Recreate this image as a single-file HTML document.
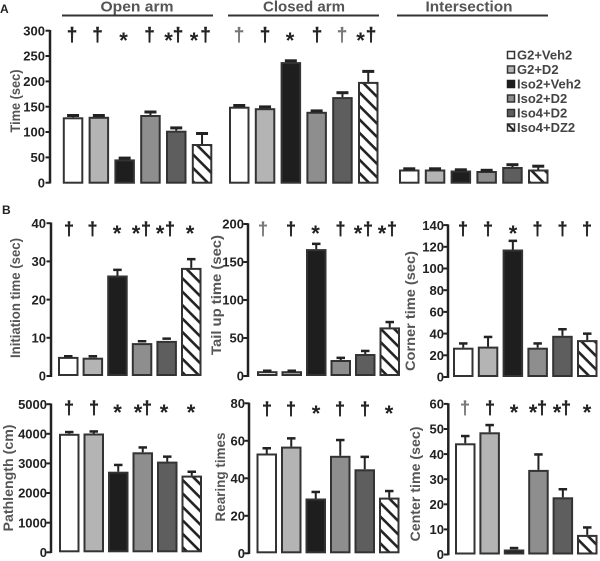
<!DOCTYPE html>
<html><head><meta charset="utf-8"><style>
html,body{margin:0;padding:0;background:#fff;}
svg{display:block;}
text{font-family:"Liberation Sans",Arial,sans-serif;font-weight:bold;}
.tk{font-size:13px;fill:#222;text-anchor:end;}
.yl{font-size:14px;fill:#555;text-anchor:middle;}
.hd{font-size:15px;fill:#555;text-anchor:middle;}
.dg{font-size:19px;fill:#222;text-anchor:middle;stroke:#222;stroke-width:0.4;}
.dl{font-size:19px;fill:#777;text-anchor:middle;stroke:#777;stroke-width:0.3;}
.db{font-size:18px;fill:#222;text-anchor:middle;stroke:#222;stroke-width:0.4;}
.dbl{font-size:18px;fill:#777;text-anchor:middle;stroke:#777;stroke-width:0.3;}
.st{font-size:22px;fill:#222;text-anchor:middle;}
.lg{font-size:13px;fill:#444;}
.ax{stroke:#222;stroke-width:2.5;fill:none;}
.tm{stroke:#222;stroke-width:2;}
.b{stroke:#333;stroke-width:2;}
.w{fill:#fff;}.l{fill:#b4b4b4;}.k{fill:#1e1e1e;}.m{fill:#8e8e8e;}.d{fill:#5e5e5e;}.h{fill:url(#hat);}
.eb{stroke:#222;stroke-width:2;}
.cp{fill:#222;}
</style></head><body>
<svg width="600" height="561" viewBox="0 0 600 561" xmlns="http://www.w3.org/2000/svg">
<defs>
<pattern id="hat" patternUnits="userSpaceOnUse" width="9.5" height="9.5" patternTransform="rotate(45)">
<rect x="0" y="0" width="9.5" height="9.5" fill="#fff"/>
<rect x="0" y="0" width="9.5" height="2.6" fill="#222"/>
</pattern>
</defs>
<rect width="600" height="561" fill="#fff"/>

<!-- Panel A -->
<text x="0" y="13" style="font-size:12px;fill:#222">A</text>
<text class="hd" x="137" y="11.5" textLength="73" lengthAdjust="spacingAndGlyphs">Open arm</text>
<text class="hd" x="304" y="11.5" textLength="82" lengthAdjust="spacingAndGlyphs">Closed arm</text>
<text class="hd" x="469" y="11.5" textLength="87" lengthAdjust="spacingAndGlyphs">Intersection</text>
<line x1="62" y1="15.5" x2="213" y2="15.5" stroke="#333" stroke-width="2"/>
<line x1="228" y1="15.5" x2="379" y2="15.5" stroke="#333" stroke-width="2"/>
<line x1="397" y1="15.5" x2="548" y2="15.5" stroke="#333" stroke-width="2"/>

<line class="ax" x1="50" y1="30" x2="50" y2="183.5"/>
<g class="tm">
<line x1="45.5" y1="30.7" x2="50" y2="30.7"/><line x1="45.5" y1="56" x2="50" y2="56"/><line x1="45.5" y1="81.4" x2="50" y2="81.4"/><line x1="45.5" y1="106.7" x2="50" y2="106.7"/><line x1="45.5" y1="132" x2="50" y2="132"/><line x1="45.5" y1="157.4" x2="50" y2="157.4"/><line x1="45.5" y1="182.7" x2="50" y2="182.7"/>
</g>
<g class="tk">
<text x="45" y="30.7" dy="0.36em">300</text><text x="45" y="56" dy="0.36em">250</text><text x="45" y="81.4" dy="0.36em">200</text><text x="45" y="106.7" dy="0.36em">150</text><text x="45" y="132" dy="0.36em">100</text><text x="45" y="157.4" dy="0.36em">50</text><text x="45" y="182.7" dy="0.36em">0</text>
</g>
<text class="yl" transform="translate(15,101) rotate(-90)" dy="0.35em" textLength="63" lengthAdjust="spacingAndGlyphs">Time (sec)</text>

<!-- A open bars -->
<rect class="b w" x="63.8" y="118.3" width="18.5" height="64.4"/>
<rect class="b l" x="89.6" y="117.8" width="18.5" height="64.9"/>
<rect class="b k" x="115.4" y="160.4" width="18.5" height="22.3"/>
<rect class="b m" x="141.2" y="116" width="18.5" height="66.7"/>
<rect class="b d" x="167" y="131.7" width="18.5" height="51"/>
<rect class="b h" x="192.8" y="145" width="18.5" height="37.7"/>
<g class="eb">
<line x1="73.05" y1="117.3" x2="73.05" y2="115.3"/><line x1="98.85" y1="116.8" x2="98.85" y2="115.3"/><line x1="124.65" y1="159.4" x2="124.65" y2="157.9"/><line x1="150.45" y1="115" x2="150.45" y2="111.8"/><line x1="176.25" y1="130.7" x2="176.25" y2="127.7"/><line x1="202.05" y1="144" x2="202.05" y2="133.3"/>
</g>
<g class="cp">
<rect x="67.05" y="114" width="12" height="3"/><rect x="92.85" y="114" width="12" height="3"/><rect x="118.65" y="156.6" width="12" height="3"/><rect x="144.45" y="110.5" width="12" height="3"/><rect x="170.25" y="126.4" width="12" height="3"/><rect x="196.05" y="132" width="12" height="3"/>
</g>
<!-- A closed bars -->
<rect class="b w" x="230" y="107.7" width="18.5" height="75"/>
<rect class="b l" x="255.8" y="109.2" width="18.5" height="73.5"/>
<rect class="b k" x="281.6" y="63.1" width="18.5" height="119.6"/>
<rect class="b m" x="307.4" y="112.8" width="18.5" height="69.9"/>
<rect class="b d" x="333.2" y="98.1" width="18.5" height="84.6"/>
<rect class="b h" x="359" y="82.9" width="18.5" height="99.8"/>
<g class="eb">
<line x1="342.45" y1="97.1" x2="342.45" y2="92.5"/><line x1="368.25" y1="81.9" x2="368.25" y2="71.2"/>
</g>
<g class="cp">
<rect x="233.25" y="104" width="12" height="3"/><rect x="259.05" y="105.4" width="12" height="3"/><rect x="284.85" y="59.3" width="12" height="3"/><rect x="310.65" y="109.4" width="12" height="3"/><rect x="336.45" y="91.2" width="12" height="3"/><rect x="362.25" y="69.9" width="12" height="3"/>
</g>
<!-- A intersection bars -->
<rect class="b w" x="400" y="170.5" width="18.5" height="12.2"/>
<rect class="b l" x="425.8" y="170.5" width="18.5" height="12.2"/>
<rect class="b k" x="451.6" y="171.5" width="18.5" height="11.2"/>
<rect class="b m" x="477.4" y="172" width="18.5" height="10.7"/>
<rect class="b d" x="503.2" y="168" width="18.5" height="14.7"/>
<rect class="b h" x="529" y="170.5" width="18.5" height="12.2"/>
<g class="eb"><line x1="512.45" y1="167" x2="512.45" y2="164.5"/><line x1="538.25" y1="169.5" x2="538.25" y2="166"/></g>
<g class="cp">
<rect x="403.25" y="167.3" width="12" height="3"/><rect x="429.05" y="167.3" width="12" height="3"/><rect x="454.85" y="168.3" width="12" height="3"/><rect x="480.65" y="168.8" width="12" height="3"/><rect x="506.45" y="163.2" width="12" height="3"/><rect x="532.25" y="164.7" width="12" height="3"/>
</g>
<!-- A stats -->
<text class="dg" x="72" y="41">†</text><text class="dg" x="97.5" y="41">†</text><text class="st" x="123.5" y="48">*</text><text class="dg" x="149.5" y="41">†</text>
<text class="st" x="168.5" y="48">*</text><text class="dg" x="178" y="41">†</text>
<text class="st" x="194" y="48">*</text><text class="dg" x="205.5" y="41">†</text>
<text class="dl" x="239" y="41">†</text><text class="dg" x="265" y="41">†</text><text class="st" x="290" y="48">*</text><text class="dg" x="317" y="41">†</text><text class="dl" x="342" y="41">†</text>
<text class="st" x="360.5" y="48">*</text><text class="dg" x="371" y="41">†</text>

<!-- Legend -->
<rect x="507.5" y="51.5" width="7" height="7" fill="#fff" stroke="#333" stroke-width="1.5"/>
<rect x="507.5" y="66" width="7" height="7" fill="#b4b4b4" stroke="#333" stroke-width="1.5"/>
<rect x="507.5" y="80.5" width="7" height="7" fill="#1e1e1e" stroke="#1e1e1e" stroke-width="1.5"/>
<rect x="507.5" y="95" width="7" height="7" fill="#8e8e8e" stroke="#333" stroke-width="1.5"/>
<rect x="507.5" y="109.5" width="7" height="7" fill="#5e5e5e" stroke="#333" stroke-width="1.5"/>
<rect x="507.5" y="124" width="7" height="7" fill="#fff" stroke="#333" stroke-width="1.5"/>
<line x1="507.5" y1="124" x2="514.5" y2="131" stroke="#222" stroke-width="2"/>
<g class="lg">
<text x="517" y="55" dy="0.36em">G2+Veh2</text>
<text x="517" y="69.5" dy="0.36em">G2+D2</text>
<text x="517" y="84" dy="0.36em">Iso2+Veh2</text>
<text x="517" y="98.5" dy="0.36em">Iso2+D2</text>
<text x="517" y="113" dy="0.36em">Iso4+D2</text>
<text x="517" y="127.5" dy="0.36em">Iso4+DZ2</text>
</g>

<!-- Panel B -->
<text x="2" y="214" style="font-size:12px;fill:#222">B</text>

<!-- B1 Initiation -->
<line class="ax" x1="51" y1="222.5" x2="51" y2="377"/>
<g class="tm"><line x1="46.5" y1="223.2" x2="51" y2="223.2"/><line x1="46.5" y1="261.4" x2="51" y2="261.4"/><line x1="46.5" y1="299.6" x2="51" y2="299.6"/><line x1="46.5" y1="337.8" x2="51" y2="337.8"/><line x1="46.5" y1="376" x2="51" y2="376"/></g>
<g class="tk"><text x="46" y="223.2" dy="0.36em">40</text><text x="46" y="261.4" dy="0.36em">30</text><text x="46" y="299.6" dy="0.36em">20</text><text x="46" y="337.8" dy="0.36em">10</text><text x="46" y="376" dy="0.36em">0</text></g>
<text class="yl" transform="translate(15,298) rotate(-90)" dy="0.35em" textLength="120" lengthAdjust="spacingAndGlyphs">Initiation time (sec)</text>
<rect class="b w" x="59" y="357.9" width="18.5" height="17.1"/>
<rect class="b l" x="83.6" y="358.7" width="18.5" height="16.3"/>
<rect class="b k" x="108.2" y="276.5" width="18.5" height="98.5"/>
<rect class="b m" x="132.8" y="344.1" width="18.5" height="30.9"/>
<rect class="b d" x="157.4" y="341.9" width="18.5" height="33.1"/>
<rect class="b h" x="182" y="268.9" width="18.5" height="106.1"/>
<g class="eb"><line x1="117.45" y1="275.5" x2="117.45" y2="269.8"/><line x1="191.25" y1="267.9" x2="191.25" y2="259.1"/></g>
<g class="cp"><rect x="64" y="355" width="8.5" height="2.5"/><rect x="88.6" y="355" width="8.5" height="2.5"/><rect x="113.2" y="268.6" width="8.5" height="2.5"/><rect x="137.8" y="340" width="8.5" height="2.5"/><rect x="162.4" y="337.4" width="8.5" height="2.5"/><rect x="187" y="257.9" width="8.5" height="2.5"/></g>
<text class="db" x="69" y="235">†</text><text class="db" x="92.5" y="235">†</text><text class="st" x="117" y="241">*</text>
<text class="st" x="136" y="241">*</text><text class="db" x="146" y="235">†</text>
<text class="st" x="160" y="241">*</text><text class="db" x="170" y="235">†</text>
<text class="st" x="190" y="241">*</text>

<!-- B2 Tail up -->
<line class="ax" x1="248" y1="223.3" x2="248" y2="377"/>
<g class="tm"><line x1="243.5" y1="224" x2="248" y2="224"/><line x1="243.5" y1="262" x2="248" y2="262"/><line x1="243.5" y1="300" x2="248" y2="300"/><line x1="243.5" y1="338" x2="248" y2="338"/><line x1="243.5" y1="376" x2="248" y2="376"/></g>
<g class="tk"><text x="244" y="224" dy="0.36em">200</text><text x="244" y="262" dy="0.36em">150</text><text x="244" y="300" dy="0.36em">100</text><text x="244" y="338" dy="0.36em">50</text><text x="244" y="376" dy="0.36em">0</text></g>
<text class="yl" transform="translate(216,295) rotate(-90)" dy="0.35em" textLength="120" lengthAdjust="spacingAndGlyphs">Tail up time (sec)</text>
<rect class="b w" x="258" y="372.2" width="18.5" height="2.8"/>
<rect class="b l" x="282.5" y="372.2" width="18.5" height="2.8"/>
<rect class="b k" x="307" y="250.1" width="18.5" height="124.9"/>
<rect class="b m" x="331.5" y="361" width="18.5" height="14"/>
<rect class="b d" x="356" y="355" width="18.5" height="20"/>
<rect class="b h" x="380.5" y="328.4" width="18.5" height="46.6"/>
<g class="eb"><line x1="316.25" y1="249.1" x2="316.25" y2="243.8"/><line x1="340.75" y1="360" x2="340.75" y2="357.8"/><line x1="365.25" y1="354" x2="365.25" y2="350.9"/><line x1="389.75" y1="327.4" x2="389.75" y2="322"/></g>
<g class="cp"><rect x="263" y="369.5" width="8.5" height="2.5"/><rect x="287.5" y="369.5" width="8.5" height="2.5"/><rect x="312" y="242.6" width="8.5" height="2.5"/><rect x="336.5" y="356.6" width="8.5" height="2.5"/><rect x="361" y="349.7" width="8.5" height="2.5"/><rect x="385.5" y="320.8" width="8.5" height="2.5"/></g>
<text class="dbl" x="263" y="235">†</text><text class="db" x="291" y="235">†</text><text class="st" x="315.5" y="241">*</text><text class="db" x="340.5" y="235">†</text>
<text class="st" x="358" y="241">*</text><text class="db" x="368" y="235">†</text>
<text class="st" x="382" y="241">*</text><text class="db" x="392" y="235">†</text>

<!-- B3 Corner -->
<line class="ax" x1="448" y1="224.4" x2="448" y2="378"/>
<g class="tm"><line x1="443.5" y1="225.1" x2="448" y2="225.1"/><line x1="443.5" y1="246.8" x2="448" y2="246.8"/><line x1="443.5" y1="268.5" x2="448" y2="268.5"/><line x1="443.5" y1="290.2" x2="448" y2="290.2"/><line x1="443.5" y1="311.9" x2="448" y2="311.9"/><line x1="443.5" y1="333.6" x2="448" y2="333.6"/><line x1="443.5" y1="355.3" x2="448" y2="355.3"/><line x1="443.5" y1="377" x2="448" y2="377"/></g>
<g class="tk"><text x="444" y="225.1" dy="0.36em">140</text><text x="444" y="246.8" dy="0.36em">120</text><text x="444" y="268.5" dy="0.36em">100</text><text x="444" y="290.2" dy="0.36em">80</text><text x="444" y="311.9" dy="0.36em">60</text><text x="444" y="333.6" dy="0.36em">40</text><text x="444" y="355.3" dy="0.36em">20</text><text x="444" y="377" dy="0.36em">0</text></g>
<text class="yl" transform="translate(410,311) rotate(-90)" dy="0.35em" textLength="120" lengthAdjust="spacingAndGlyphs">Corner time (sec)</text>
<rect class="b w" x="454" y="348.7" width="18.5" height="27.3"/>
<rect class="b l" x="478.8" y="347.6" width="18.5" height="28.4"/>
<rect class="b k" x="503.6" y="250.5" width="18.5" height="125.5"/>
<rect class="b m" x="528.4" y="348.7" width="18.5" height="27.3"/>
<rect class="b d" x="553.2" y="336.8" width="18.5" height="39.2"/>
<rect class="b h" x="578" y="341.1" width="18.5" height="34.9"/>
<g class="eb"><line x1="463.25" y1="347.7" x2="463.25" y2="343.4"/><line x1="488.05" y1="346.6" x2="488.05" y2="336.9"/><line x1="512.85" y1="249.5" x2="512.85" y2="240.8"/><line x1="537.65" y1="347.7" x2="537.65" y2="343.4"/><line x1="562.45" y1="335.8" x2="562.45" y2="329.3"/><line x1="587.25" y1="340.1" x2="587.25" y2="333.6"/></g>
<g class="cp"><rect x="459" y="342.2" width="8.5" height="2.5"/><rect x="483.8" y="335.7" width="8.5" height="2.5"/><rect x="508.6" y="239.6" width="8.5" height="2.5"/><rect x="533.4" y="342.2" width="8.5" height="2.5"/><rect x="558.2" y="328" width="8.5" height="2.5"/><rect x="583" y="332.4" width="8.5" height="2.5"/></g>
<text class="db" x="463" y="235">†</text><text class="db" x="488" y="235">†</text><text class="st" x="513" y="241">*</text><text class="db" x="537.5" y="235">†</text><text class="db" x="562.5" y="235">†</text><text class="db" x="587" y="235">†</text>

<!-- B4 Pathlength -->
<line class="ax" x1="51" y1="403.5" x2="51" y2="553"/>
<g class="tm"><line x1="46.5" y1="404.2" x2="51" y2="404.2"/><line x1="46.5" y1="433.8" x2="51" y2="433.8"/><line x1="46.5" y1="463.4" x2="51" y2="463.4"/><line x1="46.5" y1="493" x2="51" y2="493"/><line x1="46.5" y1="522.7" x2="51" y2="522.7"/><line x1="46.5" y1="552.3" x2="51" y2="552.3"/></g>
<g class="tk"><text x="47" y="404.2" dy="0.36em">5000</text><text x="47" y="433.8" dy="0.36em">4000</text><text x="47" y="463.4" dy="0.36em">3000</text><text x="47" y="493" dy="0.36em">2000</text><text x="47" y="522.7" dy="0.36em">1000</text><text x="47" y="552.3" dy="0.36em">0</text></g>
<text class="yl" transform="translate(8,478) rotate(-90)" dy="0.35em" textLength="107" lengthAdjust="spacingAndGlyphs">Pathlength (cm)</text>
<rect class="b w" x="60" y="434.8" width="18.5" height="116.5"/>
<rect class="b l" x="84.5" y="434.5" width="18.5" height="116.8"/>
<rect class="b k" x="109" y="472.7" width="18.5" height="78.6"/>
<rect class="b m" x="133.5" y="453.3" width="18.5" height="98"/>
<rect class="b d" x="158" y="462.6" width="18.5" height="88.7"/>
<rect class="b h" x="182.5" y="476.6" width="18.5" height="74.7"/>
<g class="eb"><line x1="69.25" y1="433.8" x2="69.25" y2="432"/><line x1="93.75" y1="433.5" x2="93.75" y2="431.4"/><line x1="118.25" y1="471.7" x2="118.25" y2="464.9"/><line x1="142.75" y1="452.3" x2="142.75" y2="447.4"/><line x1="167.25" y1="461.6" x2="167.25" y2="456.6"/><line x1="191.75" y1="475.6" x2="191.75" y2="471.7"/></g>
<g class="cp"><rect x="65" y="430.8" width="8.5" height="2.5"/><rect x="89.5" y="430.2" width="8.5" height="2.5"/><rect x="114" y="463.7" width="8.5" height="2.5"/><rect x="138.5" y="446.2" width="8.5" height="2.5"/><rect x="163" y="455.4" width="8.5" height="2.5"/><rect x="187.5" y="470.5" width="8.5" height="2.5"/></g>
<text class="db" x="69" y="414">†</text><text class="db" x="94" y="414">†</text><text class="st" x="117.5" y="420">*</text>
<text class="st" x="138" y="420">*</text><text class="db" x="147" y="414">†</text>
<text class="st" x="164" y="420">*</text><text class="st" x="191" y="420">*</text>

<!-- B5 Rearing -->
<line class="ax" x1="249" y1="402.6" x2="249" y2="554"/>
<g class="tm"><line x1="244.5" y1="403.3" x2="249" y2="403.3"/><line x1="244.5" y1="440.8" x2="249" y2="440.8"/><line x1="244.5" y1="478.3" x2="249" y2="478.3"/><line x1="244.5" y1="515.8" x2="249" y2="515.8"/><line x1="244.5" y1="553.3" x2="249" y2="553.3"/></g>
<g class="tk"><text x="245" y="403.3" dy="0.36em">80</text><text x="245" y="440.8" dy="0.36em">60</text><text x="245" y="478.3" dy="0.36em">40</text><text x="245" y="515.8" dy="0.36em">20</text><text x="245" y="553.3" dy="0.36em">0</text></g>
<text class="yl" transform="translate(220,477) rotate(-90)" dy="0.35em" textLength="89" lengthAdjust="spacingAndGlyphs">Rearing times</text>
<rect class="b w" x="257.5" y="454.5" width="18.5" height="97.8"/>
<rect class="b l" x="282" y="447.6" width="18.5" height="104.7"/>
<rect class="b k" x="306.5" y="499.5" width="18.5" height="52.8"/>
<rect class="b m" x="331" y="456.8" width="18.5" height="95.5"/>
<rect class="b d" x="355.5" y="470.3" width="18.5" height="82"/>
<rect class="b h" x="380" y="498.6" width="18.5" height="53.7"/>
<g class="eb"><line x1="266.75" y1="453.5" x2="266.75" y2="448.3"/><line x1="291.25" y1="446.6" x2="291.25" y2="438.4"/><line x1="315.75" y1="498.5" x2="315.75" y2="492"/><line x1="340.25" y1="455.8" x2="340.25" y2="440.1"/><line x1="364.75" y1="469.3" x2="364.75" y2="456.9"/><line x1="389.25" y1="497.6" x2="389.25" y2="491.1"/></g>
<g class="cp"><rect x="262.5" y="447" width="8.5" height="2.5"/><rect x="287" y="437.1" width="8.5" height="2.5"/><rect x="311.5" y="490.7" width="8.5" height="2.5"/><rect x="336" y="438.8" width="8.5" height="2.5"/><rect x="360.5" y="455.6" width="8.5" height="2.5"/><rect x="385" y="489.8" width="8.5" height="2.5"/></g>
<text class="db" x="267" y="415">†</text><text class="db" x="291" y="415">†</text><text class="st" x="316" y="421">*</text><text class="db" x="340" y="415">†</text><text class="db" x="365" y="415">†</text><text class="st" x="389" y="421">*</text>

<!-- B6 Center -->
<line class="ax" x1="448.3" y1="403.2" x2="448.3" y2="555.3"/>
<g class="tm"><line x1="443.8" y1="403.9" x2="448.3" y2="403.9"/><line x1="443.8" y1="429" x2="448.3" y2="429"/><line x1="443.8" y1="454.1" x2="448.3" y2="454.1"/><line x1="443.8" y1="479.2" x2="448.3" y2="479.2"/><line x1="443.8" y1="504.3" x2="448.3" y2="504.3"/><line x1="443.8" y1="529.4" x2="448.3" y2="529.4"/><line x1="443.8" y1="554.5" x2="448.3" y2="554.5"/></g>
<g class="tk"><text x="444" y="403.9" dy="0.36em">60</text><text x="444" y="429" dy="0.36em">50</text><text x="444" y="454.1" dy="0.36em">40</text><text x="444" y="479.2" dy="0.36em">30</text><text x="444" y="504.3" dy="0.36em">20</text><text x="444" y="529.4" dy="0.36em">10</text><text x="444" y="554.5" dy="0.36em">0</text></g>
<text class="yl" transform="translate(415,484) rotate(-90)" dy="0.35em" textLength="115" lengthAdjust="spacingAndGlyphs">Center time (sec)</text>
<rect class="b w" x="456" y="444.3" width="18.5" height="109.2"/>
<rect class="b l" x="480.4" y="433.3" width="18.5" height="120.2"/>
<rect class="b k" x="504.8" y="550.5" width="18.5" height="3"/>
<rect class="b m" x="529.2" y="470.9" width="18.5" height="82.6"/>
<rect class="b d" x="553.6" y="498.3" width="18.5" height="55.2"/>
<rect class="b h" x="578" y="535.9" width="18.5" height="17.6"/>
<g class="eb"><line x1="465.25" y1="443.3" x2="465.25" y2="436"/><line x1="489.65" y1="432.3" x2="489.65" y2="425"/><line x1="538.45" y1="469.9" x2="538.45" y2="454.4"/><line x1="562.85" y1="497.3" x2="562.85" y2="489.2"/><line x1="587.25" y1="534.9" x2="587.25" y2="527.4"/></g>
<g class="cp"><rect x="461" y="434.8" width="8.5" height="2.5"/><rect x="485.4" y="423.8" width="8.5" height="2.5"/><rect x="509.8" y="546.8" width="8.5" height="2.5"/><rect x="534.2" y="453.2" width="8.5" height="2.5"/><rect x="558.6" y="488" width="8.5" height="2.5"/><rect x="583" y="526.2" width="8.5" height="2.5"/></g>
<text class="dbl" x="465" y="414">†</text><text class="db" x="490" y="414">†</text><text class="st" x="514" y="420">*</text>
<text class="st" x="533" y="420">*</text><text class="db" x="542" y="414">†</text>
<text class="st" x="557" y="420">*</text><text class="db" x="566" y="414">†</text>
<text class="st" x="587" y="420">*</text>
</svg>
</body></html>
